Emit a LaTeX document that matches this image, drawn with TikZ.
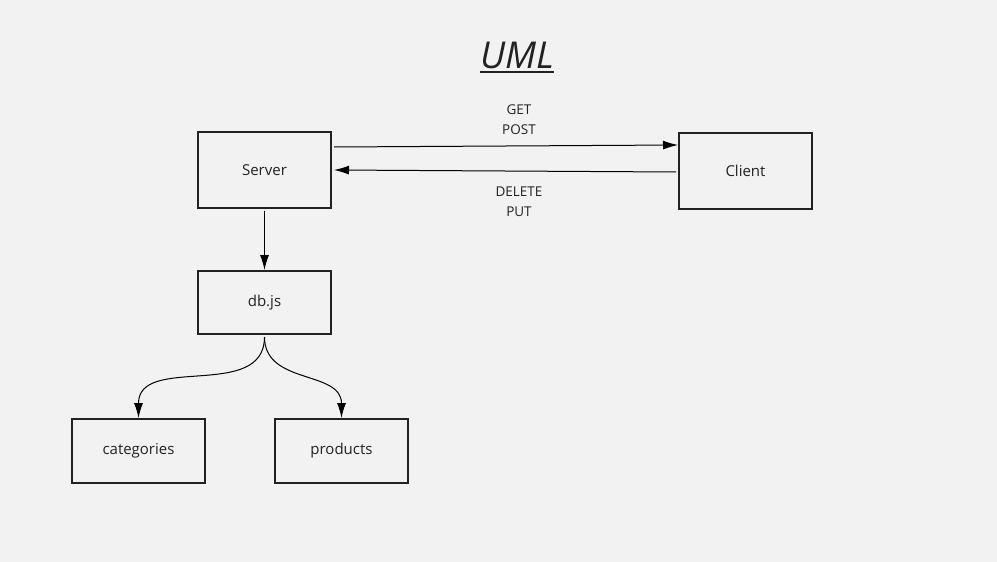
\documentclass[tikz,border=0pt]{standalone}
\usepackage{fontspec}
\setmainfont{Open Sans}
\usepackage{xcolor}
\usetikzlibrary{positioning, arrows.meta}
\definecolor{bgcolor}{HTML}{F2F2F2}
\definecolor{inkcolor}{HTML}{222222}

\tikzset{
  block/.style={draw=inkcolor, line width=2pt, minimum width=133pt, inner sep=0pt,
    text=inkcolor, font=\fontsize{15}{18}\selectfont},
  flow/.style={draw=black, line width=1pt, -{Latex[length=15pt,width=9pt]}},
  verb/.style={text=inkcolor, align=center, inner sep=0pt,
    font=\fontsize{13.5}{20}\selectfont}
}

\begin{document}
\begin{tikzpicture}[x=1pt, y=-1pt]
                \fill[bgcolor] (0,0) rectangle (997,562);
                \useasboundingbox (0,0) rectangle (997,562);
                \node [block, minimum height=76pt] (server) at (264.5,170) {Server};
                \node [block, minimum height=76pt, right=346pt of server, yshift=-1pt] (client) {Client};
                \node [block, minimum height=63pt, below=61pt of server] (db) {db.js};
                \node [block, minimum height=64pt, below=83pt of db, xshift=-126pt] (cat) {categories};
                \node [block, minimum height=64pt, below=83pt of db, xshift=77pt] (prod) {products};
                \node [inner sep=0pt, text=inkcolor, font=\fontsize{37}{40}\selectfont\itshape] (title) at (517,55) {UML};
                \draw [inkcolor, line width=2.4pt] ([yshift=-4pt]title.base west) -- ([yshift=-4pt]title.base east);
                \draw [flow] ([xshift=2pt, yshift=23pt]server.east) -- ([yshift=26pt]client.west);
                \draw [flow] ([xshift=-2pt, yshift=-1pt]client.west) -- ([xshift=2pt]server.east);
                \draw [flow] ([yshift=-2pt]server.south) -- (db.north);
                \draw [flow] ([yshift=-2pt]db.south) to [out=-90, in=90, looseness=1.1] (cat.north);
                \draw [flow] ([yshift=-2pt]db.south) to [out=-90, in=90, looseness=1.1] (prod.north);
                \node [verb] (getpost) at (519,120) {GET\\POST};
                \node [verb] (deleteput) at (519,202) {DELETE\\PUT};
              \end{tikzpicture}
\end{document}
